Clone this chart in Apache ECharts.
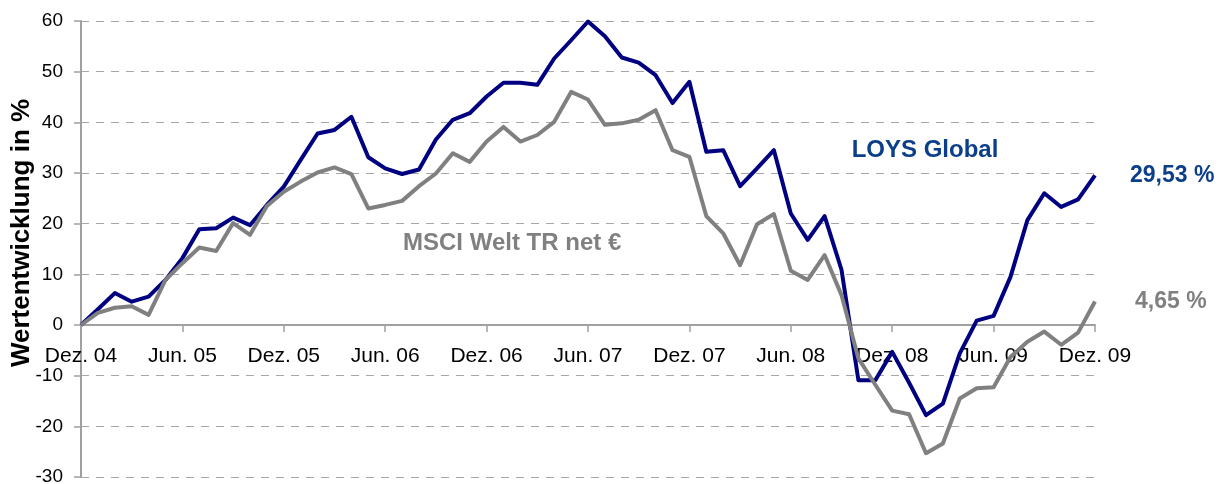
<!DOCTYPE html>
<html>
<head>
<meta charset="utf-8">
<script src="https://cdn.jsdelivr.net/npm/echarts@6/dist/echarts.min.js"></script>
<style>
html,body{margin:0;padding:0;background:#fff;}
#chart{width:1226px;height:484px;}
</style>
</head>
<body>
<div id="chart"></div>
<script>
// Monthly categories Dez. 04 .. Dez. 09
const monthNames = ['Jan.', 'Feb.', 'Mrz.', 'Apr.', 'Mai', 'Jun.', 'Jul.', 'Aug.', 'Sep.', 'Okt.', 'Nov.', 'Dez.'];
const categories = ['Dez. 04'];
for (let y = 5; y <= 9; y++) {
  for (let m = 0; m < 12; m++) {
    categories.push(monthNames[m] + ' 0' + y);
  }
}

const loysGlobal = [0, 3.1, 6.3, 4.6, 5.6, 8.9, 13.2, 18.9, 19.1, 21.2, 19.7, 23.7,
  27.3, 32.6, 37.8, 38.5, 41.1, 33.1, 30.9, 29.8, 30.7, 36.6, 40.5, 41.8,
  45.1, 47.8, 47.8, 47.4, 52.6, 56.2, 59.9, 57.0, 52.8, 51.8, 49.3, 43.8,
  48.0, 34.2, 34.5, 27.4, 30.9, 34.5, 22.0, 16.8, 21.5, 10.9, -10.9, -10.9,
  -5.3, -11.4, -17.8, -15.5, -5.6, 0.85, 1.8, 9.5, 20.7, 26.0, 23.3, 24.8, 29.53];

const msciWelt = [0, 2.4, 3.4, 3.7, 2.0, 8.9, 12.2, 15.3, 14.6, 20.1, 17.8, 23.5,
  26.3, 28.3, 30.1, 31.1, 29.8, 23.0, 23.7, 24.5, 27.4, 29.9, 33.9, 32.2,
  36.2, 39.1, 36.2, 37.5, 40.1, 46.0, 44.5, 39.5, 39.8, 40.5, 42.4, 34.5,
  33.2, 21.5, 18.1, 11.8, 19.9, 21.9, 10.7, 8.9, 13.8, 5.9, -6.6, -11.8,
  -16.9, -17.6, -25.3, -23.4, -14.5, -12.5, -12.3, -6.3, -3.3, -1.3, -3.9, -1.5, 4.65];

const endLabels = ['29,53 %', '4,65 %'];
const seriesNames = ['LOYS Global', 'MSCI Welt TR net €'];
const yAxisTitle = 'Wertentwicklung in %';
const yMin = -30, yMax = 60, yStep = 10;

const FONT = '"Liberation Sans", Arial, sans-serif';
const BLUE_LINE = '#000080';
const BLUE_TEXT = '#0b3f8a';
const GRAY = '#808080';

const W = 1226, H = 484;
const gridTop = 21, gridBottom = 7;
const gridH = H - gridTop - gridBottom;
// shift the category axis from the grid bottom up to the value 0
const zeroOffset = -((0 - yMin) / (yMax - yMin)) * gridH;

const chart = echarts.init(document.getElementById('chart'), null, {renderer: 'canvas'});
chart.setOption({
  animation: false,
  backgroundColor: '#ffffff',
  grid: {left: 81, right: 131, top: gridTop, bottom: gridBottom, containLabel: false, outerBoundsMode: 'none'},
  xAxis: {
    type: 'category',
    data: categories,
    boundaryGap: false,
    position: 'bottom',
    offset: zeroOffset,
    axisLine: {onZero: false, lineStyle: {color: '#a0a0a0', width: 2}},
    axisTick: {show: true, interval: 5, length: 7, lineStyle: {color: '#a0a0a0', width: 1.5}},
    axisLabel: {interval: 5, margin: 21, color: '#000', fontSize: 21, fontFamily: FONT},
    splitLine: {show: false}
  },
  yAxis: {
    type: 'value',
    min: yMin, max: yMax, interval: yStep,
    axisLine: {show: true, lineStyle: {color: '#a0a0a0', width: 2}},
    axisTick: {show: true, length: 7, lineStyle: {color: '#a0a0a0', width: 1.5}},
    axisLabel: {margin: 18, color: '#000', fontSize: 19, fontFamily: FONT},
    splitLine: {show: true, lineStyle: {color: '#a6a6a6', width: 1, type: [8, 7]}}
  },
  series: [
    {
      name: seriesNames[0], type: 'line', data: loysGlobal,
      symbol: 'none', z: 3,
      lineStyle: {color: BLUE_LINE, width: 4, join: 'round'},
      endLabel: {show: true, formatter: endLabels[0], distance: 35, color: BLUE_TEXT,
        fontSize: 23, fontWeight: 'bold', fontFamily: FONT}
    },
    {
      name: seriesNames[1], type: 'line', data: msciWelt,
      symbol: 'none', z: 4,
      lineStyle: {color: GRAY, width: 4, join: 'round'},
      endLabel: {show: true, formatter: endLabels[1], distance: 40, color: GRAY,
        fontSize: 23, fontWeight: 'bold', fontFamily: FONT}
    }
  ],
  graphic: [
    {type: 'text', x: 22, y: 233, rotation: Math.PI / 2,
      style: {text: yAxisTitle, fill: '#000', font: 'bold 26px ' + FONT, textAlign: 'center', textVerticalAlign: 'middle'}},
    {type: 'text', x: 925, y: 150,
      style: {text: seriesNames[0], fill: BLUE_TEXT, font: 'bold 24px ' + FONT, textAlign: 'center', textVerticalAlign: 'middle'}},
    {type: 'text', x: 403, y: 243,
      style: {text: seriesNames[1], fill: GRAY, font: 'bold 24px ' + FONT, textAlign: 'left', textVerticalAlign: 'middle'}}
  ]
});
</script>
</body>
</html>
